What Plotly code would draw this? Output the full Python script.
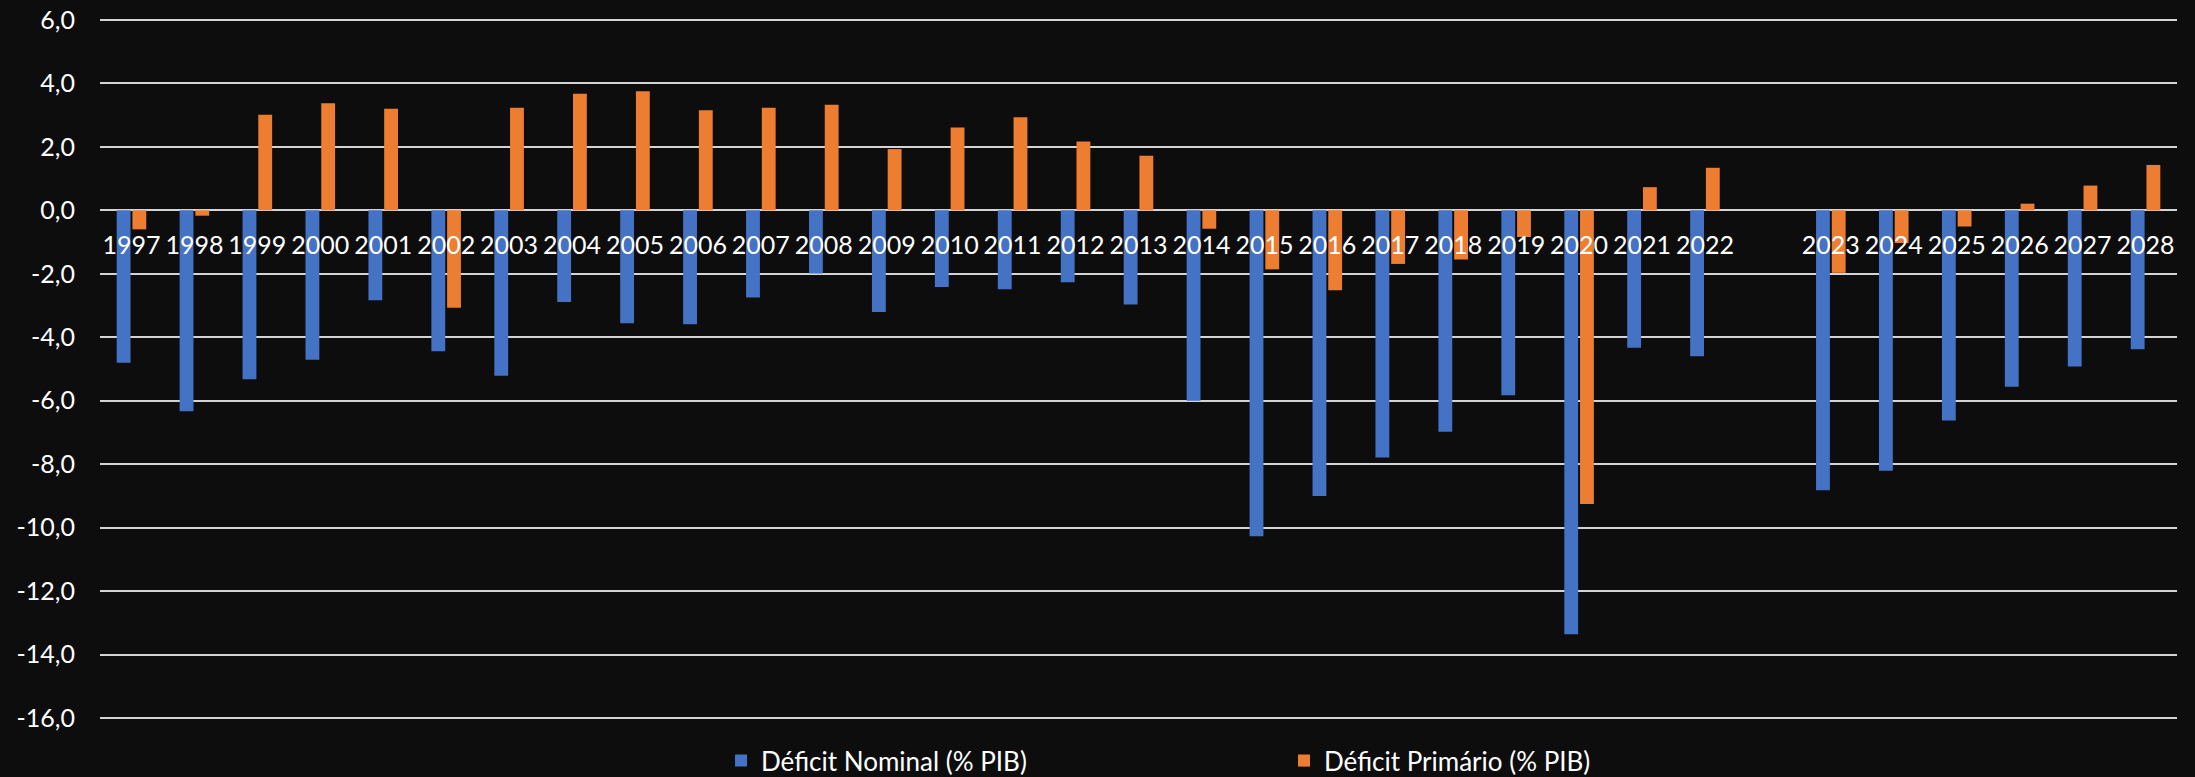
import plotly.graph_objects as go

categories = ["1997", "1998", "1999", "2000", "2001", "2002", "2003", "2004", "2005",
              "2006", "2007", "2008", "2009", "2010", "2011", "2012", "2013", "2014",
              "2015", "2016", "2017", "2018", "2019", "2020", "2021", "2022", " ",
              "2023", "2024", "2025", "2026", "2027", "2028"]

deficit_nominal = [-4.80, -6.33, -5.32, -4.71, -2.83, -4.44, -5.21, -2.89, -3.56,
                   -3.59, -2.75, -1.99, -3.20, -2.42, -2.49, -2.27, -2.97, -6.00,
                   -10.27, -9.00, -7.79, -6.98, -5.83, -13.36, -4.33, -4.60, None,
                   -8.82, -8.21, -6.62, -5.56, -4.92, -4.38]

deficit_primario = [-0.60, -0.17, 3.01, 3.37, 3.20, -3.07, 3.23, 3.67, 3.75,
                    3.15, 3.23, 3.33, 1.93, 2.61, 2.93, 2.17, 1.72, -0.58,
                    -1.86, -2.52, -1.69, -1.55, -0.84, -9.25, 0.73, 1.34, None,
                    -1.97, -1.03, -0.51, 0.21, 0.78, 1.43]

y_ticks = [6, 4, 2, 0, -2, -4, -6, -8, -10, -12, -14, -16]
y_tick_labels = ["6,0", "4,0", "2,0", "0,0", "-2,0", "-4,0", "-6,0", "-8,0",
                 "-10,0", "-12,0", "-14,0", "-16,0"]

FONT = "Lato"
BG = "#0D0D0D"
GRID = "#D4D4D4"

Y_MIN, Y_MAX = -16.06, 6.06

fig = go.Figure()
fig.add_trace(go.Bar(x=categories, y=deficit_nominal, name="Déficit Nominal (% PIB)",
                     marker=dict(color="#4472C4", line=dict(width=0))))
fig.add_trace(go.Bar(x=categories, y=deficit_primario, name="Déficit Primário (% PIB)",
                     marker=dict(color="#ED7D31", line=dict(width=0))))

fig.update_layout(
    width=2195, height=777,
    paper_bgcolor=BG, plot_bgcolor=BG,
    margin=dict(l=100, r=18, t=18, b=57, pad=0, autoexpand=False),
    barmode="group", bargap=0.5, bargroupgap=0.12,
    separators=",.",
    font=dict(family=FONT, color="#FFFFFF", size=24),
    showlegend=True,
    legend=dict(orientation="h", x=0.299, xanchor="left", y=-0.058, yanchor="middle",
                entrywidth=518, entrywidthmode="pixels",
                font=dict(family=FONT, size=26, color="#FFFFFF"),
                bgcolor="rgba(0,0,0,0)", traceorder="normal"),
)

fig.update_xaxes(
    type="category", categoryorder="array", categoryarray=categories,
    anchor="free", position=(0 - Y_MIN) / (Y_MAX - Y_MIN),
    showgrid=False, showline=False, zeroline=False,
    ticks="", ticklabelstandoff=18,
    tickangle=0,
    tickfont=dict(family=FONT, size=25, color="#FFFFFF"),
)
fig.update_yaxes(
    range=[Y_MIN, Y_MAX], tickvals=y_ticks, ticktext=y_tick_labels,
    showgrid=True, gridcolor=GRID, gridwidth=2,
    zeroline=True, zerolinecolor=GRID, zerolinewidth=2,
    showline=False, ticks="", ticklabelstandoff=24,
    tickfont=dict(family=FONT, size=25, color="#FFFFFF"),
)

fig.write_html(
    "out.html",
    config={"displayModeBar": False},
    post_script="document.body.style.margin='0';document.body.style.padding='0';"
                "document.body.style.background='#0D0D0D';document.body.style.overflow='hidden';",
)
